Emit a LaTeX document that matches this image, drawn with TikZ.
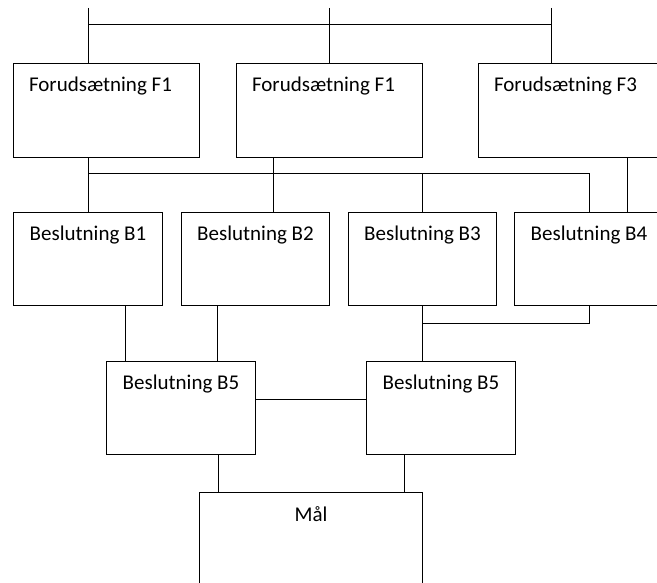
\documentclass[tikz,border=0pt]{standalone}
\usepackage{fontspec}
\setmainfont{Carlito}
\usetikzlibrary{positioning}
\usetikzlibrary{calc}

\tikzset{
  box/.style={draw, line width=1pt, anchor=north west, inner sep=0pt,
    minimum height=93pt},
  fbox/.style={box, minimum width=186pt, minimum height=94pt},
  bbox/.style={box, minimum width=149pt},
  wire/.style={line width=1pt},
  txt/.style={font=\fontsize{21}{25}\selectfont}
}

\begin{document}
\begin{tikzpicture}[x=1pt, y=-1pt]
		\useasboundingbox (0,0) rectangle (657,583);

		%prerequisites
		\node[fbox, label={[txt, anchor=center, yshift=-23pt, xshift=-6pt]north:Forudsætning F1}] (F1) at (13,63) {};
		\node[fbox, label={[txt, anchor=center, yshift=-23pt, xshift=-6pt]north:Forudsætning F1}] (F2) at (236,63) {};
		\node[fbox, label={[txt, anchor=center, yshift=-23pt, xshift=-6pt]north:Forudsætning F3}] (F3) at (478,63) {};

		%decisions
		\node[bbox, label={[txt, anchor=center, yshift=-23pt]north:Beslutning B1}] (B1) at (13,212) {};
		\node[bbox, minimum width=148pt, label={[txt, anchor=center, yshift=-23pt]north:Beslutning B2}] (B2) at (181,212) {};
		\node[bbox, minimum width=148pt, label={[txt, anchor=center, yshift=-23pt]north:Beslutning B3}] (B3) at (348,212) {};
		\node[bbox, label={[txt, anchor=center, yshift=-23pt]north:Beslutning B4}] (B4) at (514,212) {};
		\node[bbox, label={[txt, anchor=center, yshift=-23pt]north:Beslutning B5}] (B5a) at (106,361) {};
		\node[bbox, label={[txt, anchor=center, yshift=-23pt]north:Beslutning B5}] (B5b) at (366,361) {};

		%goal
		\node[box, minimum width=223pt, minimum height=110pt, label={[txt, anchor=center, yshift=-22pt]north:Mål}] (goal) at (199,492) {};

		%free ends, bus levels and wire positions
		\coordinate (topL) at (88,8);
		\coordinate (topM) at (329,8);
		\coordinate (topR) at (551,8);
		\coordinate (topbus) at (0,25);
		\coordinate (midbus) at (0,174);
		\coordinate (lowbus) at (0,324);
		\coordinate (link) at (0,399);
		\coordinate (f2x) at (273,0);
		\coordinate (f3x) at (627,0);
		\coordinate (b1x) at (125,0);
		\coordinate (b2x) at (217,0);
		\coordinate (g1x) at (218,0);
		\coordinate (g2x) at (404,0);

		%top bus
		\draw[wire] (topL) -- (topL |- F1.north);
		\draw[wire] (topM) -- (topM |- F2.north);
		\draw[wire] (topR) -- (topR |- F3.north);
		\draw[wire] (topL |- topbus) -- (topR |- topbus);

		%prerequisites to decisions
		\draw[wire] (B1.north |- F1.south) -- (B1.north);
		\draw[wire] (B1.north |- midbus) -| (B4.north);
		\draw[wire] (B3.north |- midbus) -- (B3.north);
		\draw[wire] (f2x |- F2.south) -- (f2x |- B2.north);
		\draw[wire] (f3x |- F3.south) -- (f3x |- B4.north);

		%decisions to decisions
		\draw[wire] (b1x |- B1.south) -- (b1x |- B5a.north);
		\draw[wire] (b2x |- B2.south) -- (b2x |- B5a.north);
		\draw[wire] (B3.south) -- (B3.south |- B5b.north);
		\draw[wire] (B4.south) |- (B3.south |- lowbus);
		\draw[wire] (B5a.east |- link) -- (B5b.west |- link);

		%decisions to goal
		\draw[wire] (g1x |- B5a.south) -- (g1x |- goal.north);
		\draw[wire] (g2x |- B5b.south) -- (g2x |- goal.north);
	\end{tikzpicture}
\end{document}
